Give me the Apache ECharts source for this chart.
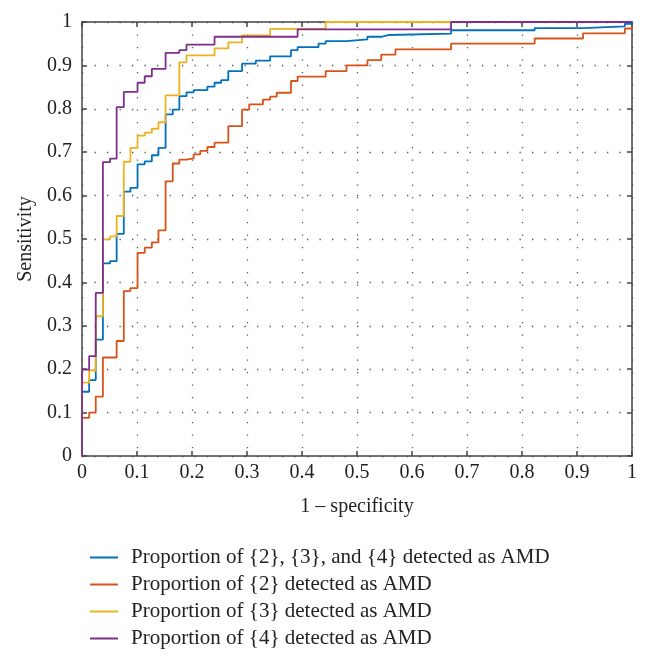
<!DOCTYPE html>
<html>
<head>
<meta charset="utf-8">
<script src="https://cdn.jsdelivr.net/npm/echarts@6/dist/echarts.min.js"></script>
<style>html,body{margin:0;padding:0;background:#fff;}#c{width:648px;height:666px;}</style>
</head>
<body>
<div id="c"></div>
<script>
// Tick labels
var xTicks = ['0','0.1','0.2','0.3','0.4','0.5','0.6','0.7','0.8','0.9','1'];
var yTicks = ['0','0.1','0.2','0.3','0.4','0.5','0.6','0.7','0.8','0.9','1'];

var seriesNames = [
  'Proportion of {2}, {3}, and {4} detected as AMD',
  'Proportion of {2} detected as AMD',
  'Proportion of {3} detected as AMD',
  'Proportion of {4} detected as AMD'
];

// ROC step points: [1 - specificity at which curve rises, sensitivity after the rise]
var rocAll = [[0,0],[0,0.148],[0.013,0.175],[0.025,0.268],[0.038,0.444],[0.051,0.449],[0.063,0.512],[0.076,0.609],[0.088,0.618],[0.101,0.672],[0.114,0.679],[0.127,0.693],[0.139,0.71],[0.152,0.787],[0.165,0.798],[0.177,0.829],[0.19,0.838],[0.203,0.843],[0.228,0.851],[0.241,0.86],[0.253,0.866],[0.266,0.887],[0.291,0.904],[0.316,0.911],[0.342,0.921],[0.38,0.935],[0.392,0.942],[0.43,0.95],[0.443,0.956],[0.481,0.96],[0.519,0.966],[0.544,0.97],[0.557,0.973],[0.671,0.981],[0.823,0.986],[0.911,0.99],[0.987,0.996],[1,1]];

var roc2 = [[0,0],[0,0.088],[0.013,0.1],[0.025,0.137],[0.038,0.227],[0.063,0.265],[0.076,0.38],[0.088,0.387],[0.101,0.468],[0.114,0.48],[0.127,0.492],[0.139,0.52],[0.152,0.633],[0.165,0.674],[0.177,0.683],[0.19,0.686],[0.203,0.695],[0.215,0.703],[0.228,0.712],[0.241,0.722],[0.266,0.76],[0.291,0.798],[0.304,0.81],[0.329,0.821],[0.342,0.828],[0.354,0.837],[0.38,0.864],[0.392,0.874],[0.443,0.887],[0.481,0.9],[0.519,0.912],[0.544,0.925],[0.57,0.937],[0.671,0.95],[0.823,0.962],[0.911,0.974],[0.987,0.985],[1,0.99]];

var roc3 = [[0,0],[0,0.169],[0.013,0.197],[0.025,0.322],[0.038,0.499],[0.051,0.506],[0.063,0.553],[0.076,0.678],[0.088,0.71],[0.101,0.738],[0.114,0.745],[0.127,0.754],[0.139,0.769],[0.152,0.831],[0.177,0.907],[0.19,0.923],[0.241,0.939],[0.266,0.953],[0.291,0.969],[0.342,0.984],[0.443,1],[1,1]];

var roc4 = [[0,0],[0,0.199],[0.013,0.23],[0.025,0.376],[0.038,0.677],[0.051,0.685],[0.063,0.804],[0.076,0.839],[0.101,0.86],[0.114,0.875],[0.127,0.892],[0.152,0.929],[0.177,0.935],[0.19,0.948],[0.241,0.966],[0.392,0.983],[0.671,1],[1,1]];

var colors = ['#0072BD','#D95319','#EDB120','#7E2F8E'];
var allData = [rocAll, roc2, roc3, roc4];

var font = '"Liberation Serif", "DejaVu Serif", serif';
var axisColor = '#444';
var txtColor = '#222';
var fs = 20;

var gridStyle = {show:true, lineStyle:{color:'#555', width:1.3, type:[1.3, 11.2]}};

var chart = echarts.init(document.getElementById('c'));
chart.setOption({
  animation: false,
  textStyle: {fontFamily: font},
  grid: {left: 82, right: 16, top: 22, bottom: 210, containLabel: false},
  legend: {
    orient: 'vertical', left: 85, top: 542,
    itemWidth: 28, itemHeight: 2, itemGap: 6,
    icon: 'rect',
    textStyle: {fontFamily: font, fontSize: 21, lineHeight: 20, color: txtColor, padding: [0,0,0,8]},
    data: seriesNames
  },
  xAxis: [{
    type: 'value', min: 0, max: 1, interval: 0.1,
    name: '1 \u2013 specificity', nameLocation: 'middle', nameGap: 41,
    nameTextStyle: {fontFamily: font, fontSize: fs, color: txtColor},
    axisLine: {show: true, onZero: false, lineStyle: {color: axisColor, width: 1.5}},
    axisTick: {show: true, inside: true, length: 5, lineStyle: {color: axisColor, width: 1.5}},
    axisLabel: {fontFamily: font, fontSize: fs, color: txtColor, margin: 7,
      formatter: function(v){ return xTicks[Math.round(v*10)]; }},
    splitLine: gridStyle
  },{
    type: 'value', min: 0, max: 1, interval: 0.1, position: 'top',
    axisLine: {show: true, onZero: false, lineStyle: {color: axisColor, width: 1.5}},
    axisTick: {show: true, inside: true, length: 5, lineStyle: {color: axisColor, width: 1.5}},
    axisLabel: {show: false}, splitLine: {show: false}
  }],
  yAxis: [{
    type: 'value', min: 0, max: 1, interval: 0.1,
    name: 'Sensitivity', nameLocation: 'middle', nameGap: 46,
    nameTextStyle: {fontFamily: font, fontSize: fs, color: txtColor},
    axisLine: {show: true, onZero: false, lineStyle: {color: axisColor, width: 1.5}},
    axisTick: {show: true, inside: true, length: 5, lineStyle: {color: axisColor, width: 1.5}},
    axisLabel: {fontFamily: font, fontSize: fs, color: txtColor, margin: 10,
      formatter: function(v){ return yTicks[Math.round(v*10)]; }},
    splitLine: gridStyle
  },{
    type: 'value', min: 0, max: 1, interval: 0.1, position: 'right',
    axisLine: {show: true, onZero: false, lineStyle: {color: axisColor, width: 1.5}},
    axisTick: {show: true, inside: true, length: 5, lineStyle: {color: axisColor, width: 1.5}},
    axisLabel: {show: false}, splitLine: {show: false}
  }],
  series: allData.map(function(d, i){
    return {
      name: seriesNames[i], type: 'line', step: 'end', data: d,
      xAxisIndex: 0, yAxisIndex: 0,
      symbol: 'none', showSymbol: false,
      lineStyle: {color: colors[i], width: 1.8},
      itemStyle: {color: colors[i]},
      z: 3 + i
    };
  })
});
</script>
</body>
</html>
